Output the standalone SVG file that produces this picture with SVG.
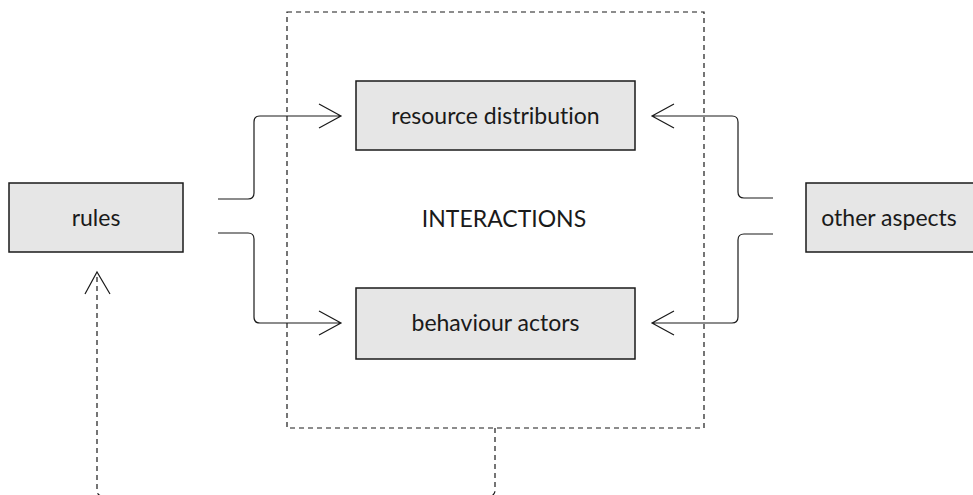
<svg xmlns="http://www.w3.org/2000/svg" width="973" height="495" viewBox="0 0 973 495">
<defs>
<style>
.box{fill:#e6e6e6;stroke:#1a1a1a;stroke-width:1.5}
.lbl{font-family:Lato,"Open Sans","DejaVu Sans",sans-serif;font-size:23px;fill:#1a1a1a;text-anchor:middle;dominant-baseline:central;font-variant-ligatures:none}
.conn{fill:none;stroke:#1a1a1a;stroke-width:1.2}
.dash{fill:none;stroke:#1a1a1a;stroke-width:1.2;stroke-dasharray:5 4}
</style>
</defs>
<rect width="973" height="495" fill="#ffffff"/>
<g id="interactions">
<rect class="dash" x="287" y="12" width="417" height="416"/>
<text class="lbl" x="504" y="218">INTERACTIONS</text>
</g>
<g id="rules">
<rect class="box" x="9" y="183" width="174" height="69"/>
<text class="lbl" x="96" y="217">rules</text>
</g>
<g id="resource-distribution">
<rect class="box" x="356" y="81" width="279" height="69"/>
<text class="lbl" x="495.5" y="115">resource distribution</text>
</g>
<g id="behaviour-actors">
<rect class="box" x="356" y="288" width="279" height="71"/>
<text class="lbl" x="495.5" y="322">behaviour actors</text>
</g>
<g id="other-aspects">
<rect class="box" x="806" y="183" width="172" height="69"/>
<text class="lbl" x="889" y="217">other aspects</text>
</g>
<g id="connectors">
<path class="conn" d="M218,199 H248 Q254,199 254,193 V122 Q254,116 260,116 H341 M319,104 L341,116 L319,128"/>
<path class="conn" d="M218,233 H248 Q254,233 254,239 V317 Q254,323 260,323 H341 M319,311 L341,323 L319,335"/>
<path class="conn" d="M773,198 H744 Q738,198 738,192 V122 Q738,116 732,116 H652 M674,104 L652,116 L674,128"/>
<path class="conn" d="M773,234 H744 Q738,234 738,240 V317 Q738,323 732,323 H652 M674,311 L652,323 L674,335"/>
<path class="dash" d="M495,428 V490 Q495,496 489,496 H103 Q97,496 97,490 V273"/>
<path class="conn" d="M85,294 L97,272 L110,294"/>
</g>
</svg>
